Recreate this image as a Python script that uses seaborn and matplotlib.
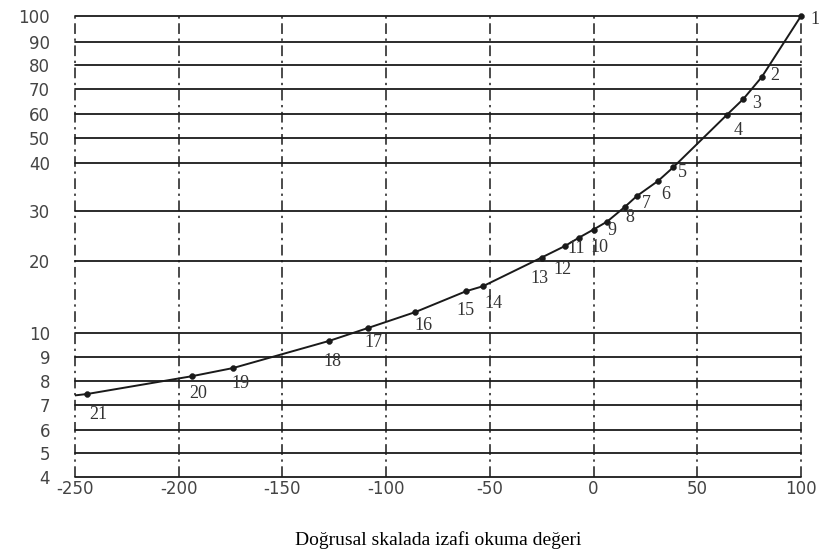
import numpy as np
import pandas as pd
import matplotlib
matplotlib.use("Agg")
import matplotlib.pyplot as plt
import seaborn as sns

# ---- data ----
point_ids = list(range(1, 22))
x_vals = [100.0, 81.1, 72.2, 64.2, 38.4, 31.2, 20.8, 15.2, 6.6, 0.0, -6.9,
          -13.8, -25.0, -53.3, -61.5, -86.0, -108.7, -127.5, -173.8, -193.6, -244.0]
y_vals = [100.0, 75.0, 66.0, 59.6, 39.1, 36.3, 33.1, 30.9, 27.9, 26.3, 24.7,
          23.0, 20.7, 16.5, 15.8, 12.9, 10.7, 9.67, 8.54, 8.2, 7.46]
curve_start_x = [-250.0]
curve_start_y = [7.4]

x_ticks = [-250, -200, -150, -100, -50, 0, 50, 100]
x_tick_labels = ["-250", "-200", "-150", "-100", "-50", "0", "50", "100"]
y_ticks = [4, 5, 6, 7, 8, 9, 10, 20, 30, 40, 50, 60, 70, 80, 90, 100]
y_tick_labels = [str(v) for v in y_ticks]
# non-uniform printed scale of the original chart (relative height of each grid line)
y_tick_pos = [0, 24, 47, 72, 96, 120, 144, 216, 266, 314, 339, 363, 388, 412, 435, 461]

x_label = "Doğrusal skalada izafi okuma değeri"

# label offsets (pixels) for the point numbers
label_dx = [14, 13, 13, 11, 9, 7, 10, 5, 5, 6, -3, -2, -2, 10, -1, 8, 5, 3, 7, 6, 11]
label_dy = [-4, 2, -5, -16, -5, -14, -7, -11, -9, -18, -11, -24, -21, -17, -19, -13, -15, -21, -15, -17, -21]

# ---- figure ----
sns.set_style("white")
fig = plt.figure(figsize=(8.22, 5.55), dpi=100)
ax = fig.add_axes([75 / 822, 1 - 477 / 555, (801 - 75) / 822, (477 - 16) / 555])

def fwd(v):
    return np.interp(v, y_ticks, y_tick_pos)

def inv(p):
    return np.interp(p, y_tick_pos, y_ticks)

ax.set_yscale("function", functions=(fwd, inv))

curve = pd.DataFrame({"x": curve_start_x + x_vals[::-1],
                      "y": curve_start_y + y_vals[::-1]})
points = pd.DataFrame({"x": x_vals, "y": y_vals, "id": point_ids})

ink = "#1a1a1a"
# grid
for yv in y_ticks:
    ax.axhline(yv, color=ink, lw=1.3, zorder=1, clip_on=False)
for xv in x_ticks:
    ax.axvline(xv, color=ink, lw=1.1, ls=(0, (7, 3, 1.5, 3)), zorder=1, clip_on=False)

sns.lineplot(data=curve, x="x", y="y", ax=ax, color=ink, lw=1.4,
             sort=False, estimator=None, zorder=3)
sns.scatterplot(data=points, x="x", y="y", ax=ax, color=ink, s=18,
                edgecolor=ink, zorder=4, clip_on=False)

k = 72 / 100
for i, (px, py, pid) in enumerate(zip(x_vals, y_vals, point_ids)):
    ax.annotate(str(pid), (px, py), xytext=(label_dx[i] * k, label_dy[i] * k),
                textcoords="offset points", ha="center", va="center",
                fontsize=13, family="Liberation Serif", color="#333333", zorder=5)

ax.set_xlim(-250, 100)
ax.set_ylim(4, 100)
ax.set_xticks(x_ticks)
ax.set_xticklabels(x_tick_labels)
ax.set_yticks(y_ticks)
ax.set_yticklabels(y_tick_labels)
ax.yaxis.set_minor_locator(matplotlib.ticker.NullLocator())
ax.tick_params(axis="y", length=0, pad=18, labelsize=12, labelcolor="#444444")
ax.tick_params(axis="x", length=0, pad=2, labelsize=12, labelcolor="#444444")
for s in ax.spines.values():
    s.set_visible(False)

ax.set_xlabel(x_label, family="Liberation Serif", fontsize=14, color="black", labelpad=24)
ax.set_ylabel("")

fig.savefig("out.png", dpi=100)
